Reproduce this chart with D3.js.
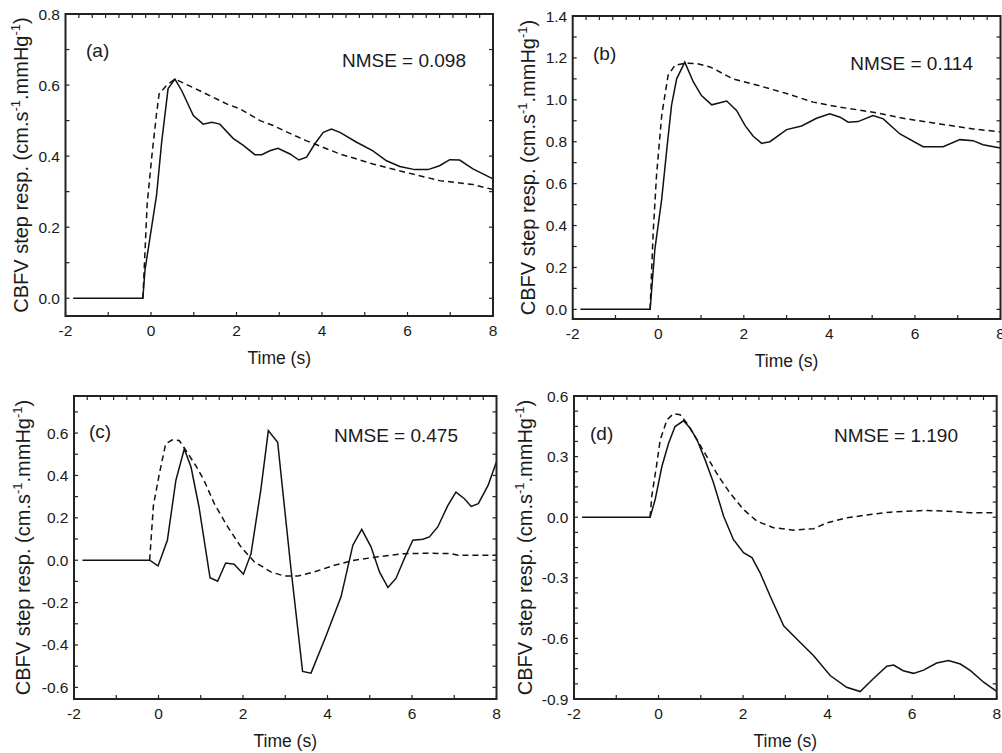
<!DOCTYPE html>
<html>
<head>
<meta charset="utf-8">
<script src="https://cdn.jsdelivr.net/npm/d3@7/dist/d3.min.js"></script>
<style>
  body { margin: 0; background: #fff; }
  svg { display: block; }
  text { font-family: "Liberation Sans", Arial, sans-serif; fill: #1a1a1a; }
</style>
</head>
<body>
<div id="chart"></div>
<script>
// ---- data (time in s, response in cm.s-1.mmHg-1) ----
const timeTicks = [-2, 0, 2, 4, 6, 8];
const panelLabels = ["(a)", "(b)", "(c)", "(d)"];
const nmseValues = ["0.098", "0.114", "0.475", "1.190"];

const measA = [[-1.82,0],[-0.19,0],[-0.14,0.08],[0.13,0.29],[0.25,0.44],[0.40,0.59],[0.56,0.617],[0.72,0.584],[0.99,0.514],
  [1.22,0.49],[1.42,0.495],[1.61,0.49],[1.92,0.45],[2.16,0.43],[2.43,0.404],[2.59,0.404],[2.78,0.415],[2.97,0.422],
  [3.25,0.406],[3.46,0.389],[3.64,0.397],[3.83,0.434],[4.03,0.467],[4.22,0.476],[4.42,0.467],[4.81,0.439],[5.19,0.415],
  [5.51,0.387],[5.82,0.371],[6.17,0.362],[6.48,0.362],[6.75,0.373],[6.99,0.39],[7.22,0.389],[7.53,0.364],[8.0,0.336]];
const modelA = [[-0.19,0],[-0.09,0.265],[0.02,0.40],[0.13,0.52],[0.19,0.575],[0.37,0.60],[0.56,0.617],[1.14,0.584],
  [1.77,0.547],[2.08,0.533],[2.55,0.50],[2.86,0.486],[3.32,0.46],[3.64,0.443],[4.42,0.406],[5.19,0.378],[5.97,0.354],
  [6.75,0.331],[7.53,0.32],[8.0,0.306]];

const measB = [[-1.82,0],[-0.19,0],[-0.08,0.285],[0.08,0.525],[0.2,0.765],[0.31,0.973],[0.43,1.10],[0.62,1.18],[0.82,1.085],
  [1.01,1.02],[1.25,0.976],[1.44,0.986],[1.6,0.994],[1.83,0.949],[2.03,0.877],[2.22,0.826],[2.42,0.792],[2.61,0.80],
  [3.0,0.858],[3.35,0.875],[3.70,0.912],[4.01,0.933],[4.25,0.917],[4.44,0.893],[4.67,0.896],[5.02,0.925],[5.26,0.909],
  [5.65,0.837],[6.19,0.776],[6.66,0.776],[7.05,0.81],[7.36,0.805],[7.59,0.786],[8.0,0.77]];
const modelB = [[-0.19,0],[-0.12,0.365],[-0.04,0.64],[0.08,0.925],[0.13,0.99],[0.23,1.117],[0.39,1.165],[0.62,1.175],
  [0.9,1.173],[1.21,1.157],[1.75,1.10],[2.38,1.066],[3.0,1.030],[3.62,0.989],[4.25,0.965],[5.02,0.941],[5.80,0.909],
  [6.58,0.885],[7.36,0.861],[8.0,0.847]];

const measC = [[-1.8,0],[-0.21,0],[-0.01,-0.027],[0.21,0.094],[0.41,0.376],[0.61,0.525],[0.77,0.44],[0.96,0.25],
  [1.22,-0.083],[1.40,-0.099],[1.59,-0.013],[1.79,-0.019],[2.01,-0.066],[2.19,0.031],[2.42,0.33],[2.60,0.612],
  [2.82,0.557],[3.13,-0.031],[3.41,-0.525],[3.61,-0.533],[3.96,-0.36],[4.32,-0.173],[4.60,0.071],[4.81,0.146],
  [5.03,0.063],[5.23,-0.055],[5.43,-0.129],[5.62,-0.086],[5.82,0.008],[6.02,0.094],[6.26,0.099],[6.41,0.11],
  [6.61,0.157],[6.85,0.259],[7.04,0.321],[7.24,0.29],[7.40,0.254],[7.57,0.267],[7.80,0.353],[8.0,0.465]];
const modelC = [[-0.21,0],[-0.12,0.259],[0.02,0.408],[0.17,0.549],[0.33,0.568],[0.49,0.565],[0.65,0.518],[0.88,0.447],
  [1.08,0.376],[1.32,0.267],[1.64,0.157],[1.95,0.063],[2.27,-0.008],[2.66,-0.055],[2.98,-0.075],[3.29,-0.075],
  [3.69,-0.055],[4.16,-0.024],[4.64,0],[5.19,0.016],[5.82,0.031],[6.45,0.033],[6.93,0.031],[7.09,0.024],[8.0,0.024]];

const measD = [[-1.81,0],[-0.2,0],[-0.08,0.087],[0.08,0.252],[0.24,0.367],[0.39,0.449],[0.59,0.477],[0.75,0.441],
  [0.91,0.383],[1.10,0.285],[1.30,0.17],[1.54,0.005],[1.77,-0.11],[2.01,-0.176],[2.21,-0.2],[2.40,-0.274],
  [2.64,-0.39],[2.96,-0.538],[3.27,-0.603],[3.67,-0.686],[4.06,-0.784],[4.45,-0.842],[4.77,-0.863],[5.08,-0.80],
  [5.40,-0.738],[5.56,-0.732],[5.79,-0.76],[6.03,-0.773],[6.27,-0.757],[6.58,-0.722],[6.86,-0.71],[7.14,-0.727],
  [7.38,-0.76],[7.69,-0.817],[8.0,-0.862]];
const modelD = [[-0.2,0],[-0.16,0.104],[-0.05,0.252],[0.04,0.383],[0.20,0.482],[0.35,0.512],[0.51,0.507],[0.67,0.466],
  [0.91,0.383],[1.14,0.301],[1.42,0.202],[1.69,0.12],[2.01,0.038],[2.33,-0.02],[2.72,-0.052],[3.19,-0.064],
  [3.67,-0.057],[3.98,-0.028],[4.45,-0.003],[5.01,0.013],[5.48,0.025],[6.27,0.033],[6.82,0.03],[7.37,0.022],[8.0,0.022]];

const yTicksA = [0, 0.2, 0.4, 0.6, 0.8];
const yTicksB = [0, 0.2, 0.4, 0.6, 0.8, 1.0, 1.2, 1.4];
const yTicksC = [-0.6, -0.4, -0.2, 0, 0.2, 0.4, 0.6];
const yTicksD = [-0.9, -0.6, -0.3, 0, 0.3, 0.6];

// ---- layout ----
const width = 1002, height = 753;
const svg = d3.select("#chart").append("svg").attr("width", width).attr("height", height);
const fmt = d => d3.format(".1f")(d).replace("\u2212", "-");

const panels = [
  { frame: { x0: 65.5, x1: 493, y0: 14, y1: 316 }, yDomain: [-0.05, 0.8], yTicks: yTicksA, yMinor: 0.1,
    meas: measA, model: modelA, labelX: 28, tagPos: [86, 57], nmsePos: [466, 67] },
  { frame: { x0: 572.7, x1: 1000.5, y0: 16, y1: 319 }, yDomain: [-0.046, 1.4], yTicks: yTicksB, yMinor: 0.1,
    meas: measB, model: modelB, labelX: 535, tagPos: [593, 60], nmsePos: [973, 70] },
  { frame: { x0: 74, x1: 496.5, y0: 396, y1: 699 }, yDomain: [-0.655, 0.775], yTicks: yTicksC, yMinor: 0.1,
    meas: measC, model: modelC, labelX: 30, tagPos: [89, 438], nmsePos: [458, 442] },
  { frame: { x0: 574, x1: 996.7, y0: 396, y1: 699 }, yDomain: [-0.9, 0.6], yTicks: yTicksD, yMinor: 0.075,
    meas: measD, model: modelD, labelX: 532, tagPos: [590, 440], nmsePos: [958, 442] }
];

panels.forEach((p, i) => {
  const f = p.frame;
  const x = d3.scaleLinear().domain([-2, 8]).range([f.x0, f.x1]);
  const y = d3.scaleLinear().domain(p.yDomain).range([f.y1, f.y0]);
  const g = svg.append("g").attr("class", "panel");

  // ticks on all four sides, pointing inward
  const tickLen = 4;
  const ticks = g.append("g").attr("stroke", "#222").attr("stroke-width", 1.2);
  d3.range(-2, 8.001, 1).forEach(t => {
    ticks.append("line").attr("x1", x(t)).attr("x2", x(t)).attr("y1", f.y1).attr("y2", f.y1 - tickLen);
  });
  d3.range(-2 + 0.3125, 8, 0.3125).forEach(t => {
    ticks.append("line").attr("x1", x(t)).attr("x2", x(t)).attr("y1", f.y0).attr("y2", f.y0 + tickLen);
  });
  const yStart = Math.ceil(p.yDomain[0] / p.yMinor - 1e-6) * p.yMinor;
  d3.range(yStart, p.yDomain[1] + 1e-6, p.yMinor).forEach(v => {
    ticks.append("line").attr("x1", f.x0).attr("x2", f.x0 + tickLen).attr("y1", y(v)).attr("y2", y(v));
    ticks.append("line").attr("x1", f.x1).attr("x2", f.x1 - tickLen).attr("y1", y(v)).attr("y2", y(v));
  });

  // tick labels
  g.selectAll(".xl").data(timeTicks).enter().append("text")
    .attr("x", d => x(d)).attr("y", f.y1 + 20)
    .attr("text-anchor", "middle").style("font-size", "15.5px")
    .text(d => String(d));
  g.selectAll(".yl").data(p.yTicks).enter().append("text")
    .attr("x", f.x0 - 5.5).attr("y", d => y(d) + 5.5)
    .attr("text-anchor", "end").style("font-size", "15.5px")
    .text(fmt);

  // curves
  const line = d3.line().x(d => x(d[0])).y(d => y(d[1]));
  g.append("path").datum(p.model).attr("d", line)
    .attr("fill", "none").attr("stroke", "#111").attr("stroke-width", 1.5)
    .attr("stroke-dasharray", "6,4");
  g.append("path").datum(p.meas).attr("d", line)
    .attr("fill", "none").attr("stroke", "#111").attr("stroke-width", 1.5);

  // frame
  g.append("rect").attr("x", f.x0).attr("y", f.y0)
    .attr("width", f.x1 - f.x0).attr("height", f.y1 - f.y0)
    .attr("fill", "none").attr("stroke", "#222").attr("stroke-width", 2);

  // annotations
  g.append("text").attr("x", p.tagPos[0]).attr("y", p.tagPos[1])
    .style("font-size", "19px").text(panelLabels[i]);
  g.append("text").attr("x", p.nmsePos[0]).attr("y", p.nmsePos[1])
    .attr("text-anchor", "end").style("font-size", "19px")
    .text("NMSE = " + nmseValues[i]);

  // axis titles
  g.append("text").attr("x", (f.x0 + f.x1) / 2).attr("y", f.y1 + 48)
    .attr("text-anchor", "middle").style("font-size", "17.5px").text("Time (s)");
  const yl = g.append("text")
    .attr("transform", `translate(${p.labelX},${(f.y0 + f.y1) / 2}) rotate(-90)`)
    .attr("text-anchor", "middle").style("font-size", "20px");
  yl.append("tspan").text("CBFV step resp. (cm.s");
  yl.append("tspan").attr("dy", -8).style("font-size", "13px").text("-1");
  yl.append("tspan").attr("dy", 8).text(".mmHg");
  yl.append("tspan").attr("dy", -8).style("font-size", "13px").text("-1");
  yl.append("tspan").attr("dy", 8).text(")");
});
</script>
</body>
</html>
